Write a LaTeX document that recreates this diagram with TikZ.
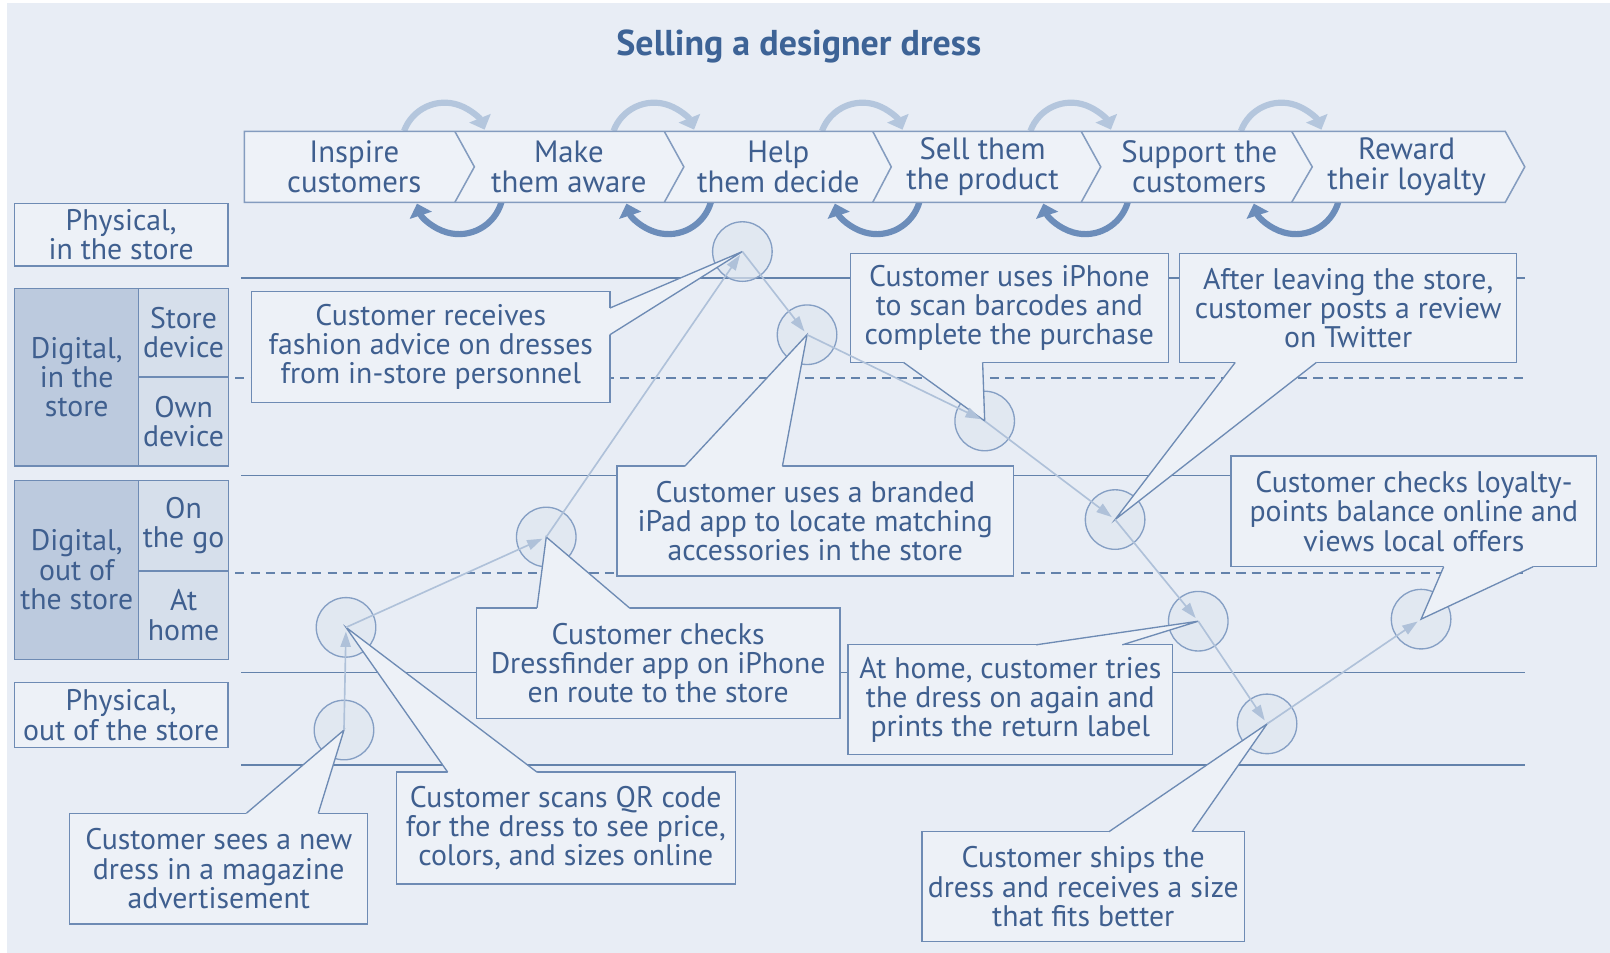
\documentclass[tikz,border=0pt]{standalone}
\usepackage{fontspec}
\setmainfont{PT Sans}
\usetikzlibrary{arrows.meta,calc}
\definecolor{bgc}{HTML}{E8EDF5}
\definecolor{boxc}{HTML}{EDF1F7}
\definecolor{edgec}{HTML}{6E8BB4}
\definecolor{txtc}{HTML}{3F5F8F}
\definecolor{titlec}{HTML}{3D6396}
\definecolor{darkc}{HTML}{BCCADE}
\definecolor{lightc}{HTML}{D6DFEB}
\definecolor{circc}{HTML}{DFE6F0}
\definecolor{circe}{HTML}{859FC4}
\definecolor{flowc}{HTML}{AFC1D9}
\definecolor{arcl}{HTML}{B4C6DD}
\definecolor{arcd}{HTML}{6C8DBA}
\definecolor{rulec}{HTML}{6382AB}
\definecolor{chevc}{HTML}{EEF2F8}
\newcommand\ptrwedge[4]{%
  \fill[boxc] ($(#1)+(#4)$) -- (#1) -- (#3) -- (#2) -- ($(#2)+(#4)$) -- cycle;
  \draw[ptr] (#1) -- (#3) -- (#2);}
\newcommand\cyclepair[2]{%
  \draw[toparc] ($(#1,142)+(-160:42)$) arc[start angle=-160,end angle=-22,radius=42];
  \draw[botarc] ($(#2,185)+(16:43)$) arc[start angle=16,end angle=162,radius=43];}
\begin{document}
\begin{tikzpicture}[x=1pt,y=-1pt,
  base/.style={text=txtc, align=center, inner sep=0pt, font=\fontsize{29}{28.5}\selectfont},
  chevt/.style={base, font=\fontsize{30}{29}\selectfont},
  callout/.style={base, draw=edgec, fill=boxc, line width=1.3pt},
  lab/.style={base, draw=edgec, line width=1.3pt, font=\fontsize{29}{28.5}\selectfont},
  tp/.style={circle, draw=circe, fill=circc, fill opacity=0.7, line width=1.3pt, minimum size=58pt, inner sep=0pt},
  ptr/.style={draw=edgec, line width=1.3pt, line join=miter},
  flowline/.style={draw=flowc, line width=1.6pt, -{Triangle[length=15pt,width=10pt]}, shorten >=4pt},
  rulel/.style={draw=rulec, line width=1.5pt},
  ruled/.style={rulel, dash pattern=on 9pt off 6pt},
  chevl/.style={draw=edgec!85, line width=1.5pt, line join=miter},
  toparc/.style={draw=arcl, line width=6pt, -{Triangle[length=12pt,width=22pt]}},
  botarc/.style={draw=arcd, line width=6pt, -{Triangle[length=12pt,width=22pt]}},
]
% background
\fill[white] (0,0) rectangle (1568,928);
\fill[bgc] (7,3) rectangle (1568,928);
\useasboundingbox (0,0) rectangle (1568,928);

% title
\node[font=\bfseries\fontsize{35}{36}\selectfont, text=titlec, inner sep=0pt] (title) at (778,45) {Selling a designer dress};

% cycle arrows
\cyclepair{433}{447}
\cyclepair{637}{651}
\cyclepair{840}{854}
\cyclepair{1043}{1057}
\cyclepair{1248}{1262}

% chevron bar
\fill[chevc] (238,128) -- (1466,128) -- (1485,162.5) -- (1466,197) -- (238,197) -- cycle;
\draw[chevl] (238,128) -- (1466,128) -- (1485,162.5) -- (1466,197) -- (238,197) -- cycle;
\foreach \a/\b in {443/462,647/666,850/868,1053/1072,1258/1278}
  \draw[chevl] (\a,128) -- (\b,162.5) -- (\a,197);
\node[chevt] (s1) at (345,162.5) {Inspire\\customers};
\node[chevt] (s2) at (554,162.5) {Make\\them aware};
\node[chevt] (s3) at (758,162.5) {Help\\them decide};
\node[chevt] (s4) at (957,162.5) {Sell them\\the product};
\node[chevt] (s5) at (1168,162.5) {Support the\\customers};
\node[chevt] (s6) at (1370,162.5) {Reward\\their loyalty};

% row labels
\node[lab, fill=boxc, minimum width=208pt, minimum height=61pt] (L1) at (118,228.5) {Physical,\\in the store};
\node[lab, fill=darkc, minimum width=121.5pt, minimum height=173pt] (L2) at (74.75,367.5) {Digital,\\in the\\store};
\node[lab, fill=lightc, minimum width=87.5pt, minimum height=86pt] (L2a) at (178.75,324) {Store\\device};
\node[lab, fill=lightc, minimum width=87.5pt, minimum height=87pt] (L2b) at (178.75,410.5) {Own\\device};
\node[lab, fill=darkc, minimum width=121.5pt, minimum height=174pt] (L3) at (74.75,555) {Digital,\\out of\\the store};
\node[lab, fill=lightc, minimum width=87.5pt, minimum height=88pt] (L3a) at (178.75,512) {On\\the go};
\node[lab, fill=lightc, minimum width=87.5pt, minimum height=86pt] (L3b) at (178.75,599) {At\\home};
\node[lab, fill=boxc, minimum width=208pt, minimum height=63pt] (L4) at (118,696.5) {Physical,\\out of the store};

% lane rules
\draw[rulel] (235,271) -- (1485,271);
\draw[ruled] (229,368) -- (1485,368);
\draw[rulel] (235,463) -- (1485,463);
\draw[ruled] (229,558) -- (1485,558);
\draw[rulel] (235,655) -- (1485,655);
\draw[rulel] (235,745) -- (1485,745);

% touchpoints
\node[tp] (c1) at (335,711) {};
\node[tp] (c2) at (337,611) {};
\node[tp] (c3) at (532,523) {};
\node[tp] (c4) at (723,245) {};
\node[tp] (c5) at (786,326) {};
\node[tp] (c6) at (959,410) {};
\node[tp] (c7) at (1086,506) {};
\node[tp] (c8) at (1167,605) {};
\node[tp] (c9) at (1234,705) {};
\node[tp] (c10) at (1384,603) {};

% callouts
\node[callout, minimum width=349pt, minimum height=108pt] (A) at (419.5,338) {Customer receives\\fashion advice on dresses\\from in-store personnel};
\coordinate (A1) at (594,300); \coordinate (A2) at (594,326);
\ptrwedge{A1}{A2}{c4.center}{-3,0}

\node[callout, minimum width=386pt, minimum height=107pt] (B) at (794,507.5) {Customer uses a branded\\iPad app to locate matching\\accessories in the store};
\coordinate (B1) at (667,454); \coordinate (B2) at (762,454);
\ptrwedge{B1}{B2}{c5.center}{0,3}

\node[callout, minimum width=310pt, minimum height=106pt] (C) at (983,300) {Customer uses iPhone\\to scan barcodes and\\complete the purchase};
\coordinate (C1) at (880,353); \coordinate (C2) at (957,353);
\ptrwedge{C1}{C2}{c6.center}{0,-3}

\node[callout, minimum width=328pt, minimum height=106pt] (D) at (1313,300) {After leaving the store,\\customer posts a review\\on Twitter};
\coordinate (D1) at (1203,353); \coordinate (D2) at (1282,353);
\ptrwedge{D1}{D2}{c7.center}{0,-3}

\node[callout, minimum width=356pt, minimum height=108pt] (E) at (1377,498) {Customer checks loyalty-\\points balance online and\\views local offers};
\coordinate (E1) at (1406,552); \coordinate (E2) at (1493,552);
\ptrwedge{E1}{E2}{c10.center}{0,-3}

\node[callout, minimum width=354pt, minimum height=108pt] (F) at (641,646) {Customer checks\\Dressfinder app on iPhone\\en route to the store};
\coordinate (F1) at (523,592); \coordinate (F2) at (613,592);
\ptrwedge{F1}{F2}{c3.center}{0,3}

\node[callout, minimum width=316pt, minimum height=107pt] (G) at (984,681.5) {At home, customer tries\\the dress on again and\\prints the return label};
\coordinate (G1) at (1009,628); \coordinate (G2) at (1093,628);
\ptrwedge{G1}{G2}{c8.center}{0,3}

\node[callout, minimum width=314pt, minimum height=107pt] (H) at (1055,863.5) {Customer ships the\\dress and receives a size\\that fits better};
\coordinate (H1) at (1080,810); \coordinate (H2) at (1161,810);
\ptrwedge{H1}{H2}{c9.center}{0,3}

\node[callout, minimum width=330pt, minimum height=109pt] (I) at (551,806.5) {Customer scans QR code\\for the dress to see price,\\colors, and sizes online};
\coordinate (I1) at (436,752); \coordinate (I2) at (523,752);
\ptrwedge{I1}{I2}{c2.center}{0,3}

\node[callout, minimum width=290pt, minimum height=108pt] (J) at (213,846) {Customer sees a new\\dress in a magazine\\advertisement};
\coordinate (J1) at (240,792); \coordinate (J2) at (310,792);
\ptrwedge{J1}{J2}{c1.center}{0,3}

% customer journey
\draw[flowline] (c1.center) -- (c2.center);
\draw[flowline] (c2.center) -- (c3.center);
\draw[flowline] (c3.center) -- (c4.center);
\draw[flowline] (c4.center) -- (c5.center);
\draw[flowline] (c5.center) -- (c6.center);
\draw[flowline] (c6.center) -- (c7.center);
\draw[flowline] (c7.center) -- (c8.center);
\draw[flowline] (c8.center) -- (c9.center);
\draw[flowline] (c9.center) -- (c10.center);
\end{tikzpicture}
\end{document}
